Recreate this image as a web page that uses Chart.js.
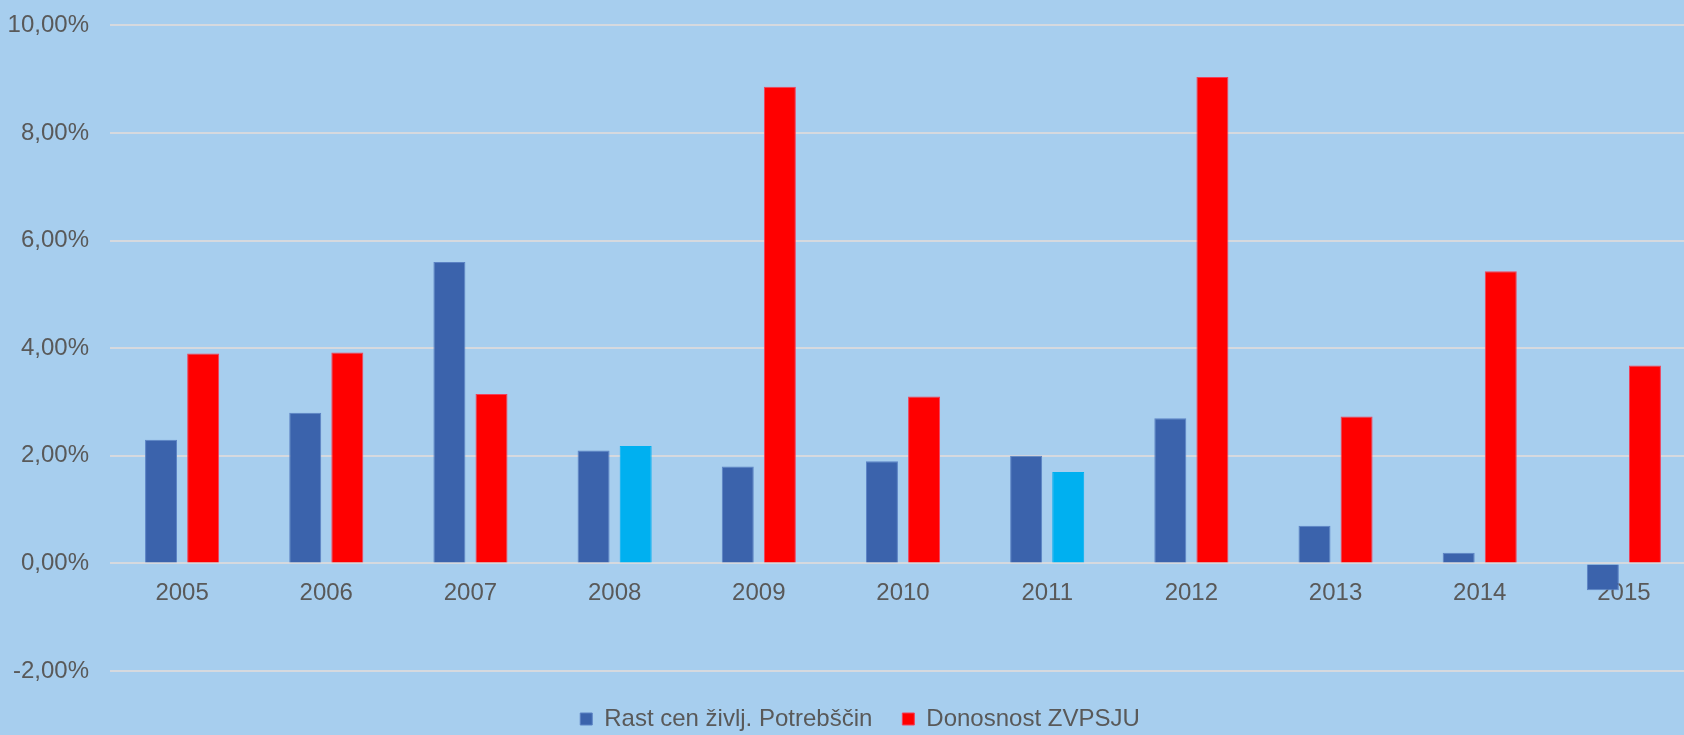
<!DOCTYPE html>
<html>
<head>
<meta charset="utf-8">
<script src="https://cdn.jsdelivr.net/npm/chart.js@4.4.0/dist/chart.umd.min.js"></script>
<style>
    html, body { margin: 0; padding: 0; overflow: hidden; background: #A7CEEE; }
    #wrap { width: 1696px; height: 745px; margin-top: -10px; }
</style>
</head>
<body>
<div id="wrap"><canvas id="grafico"></canvas></div>
<script>
const anos = ['2005', '2006', '2007', '2008', '2009', '2010', '2011', '2012', '2013', '2014', '2015'];
const rastCen = [2.3, 2.8, 5.6, 2.1, 1.8, 1.9, 2.0, 2.7, 0.7, 0.2, -0.5];
const donosnost = [3.9, 3.92, 3.15, 2.18, 8.86, 3.1, 1.7, 9.04, 2.73, 5.43, 3.68];
const yTicks = [-2, 0, 2, 4, 6, 8, 10];

// leta, kjer je donosnost pobarvana svetlo modro
const posebnaLeta = ['2008', '2011'];
const barveDonosnost = anos.map(a => posebnaLeta.includes(a) ? '#00B0F0' : '#FF0000');
const robDonosnost = anos.map(a => posebnaLeta.includes(a) ? '#00B0F0' : '#F2405A');

Chart.defaults.font.family = '"Liberation Sans", Arial, sans-serif';
Chart.defaults.font.size = 24;
Chart.defaults.color = '#595959';

// legendo premaknemo malo nizje in desno, kot v izvirniku
const premikLegende = {
    id: 'premikLegende',
    afterLayout(chart) {
        chart.legend.top += 6;
        chart.legend.bottom += 6;
        chart.legend.left += 20;
    }
};

const config = {
    type: 'bar',
    data: {
        labels: anos,
        datasets: [{
            label: 'Rast cen življ. Potrebščin',
            data: rastCen,
            backgroundColor: '#3B63AC',
            borderColor: '#5B82C4',
            borderWidth: 1,
            categoryPercentage: 0.584,
            barPercentage: 0.76
        }, {
            label: 'Donosnost ZVPSJU',
            data: donosnost,
            backgroundColor: barveDonosnost,
            borderColor: robDonosnost,
            borderWidth: 1,
            categoryPercentage: 0.584,
            barPercentage: 0.76
        }]
    },
    plugins: [premikLegende],
    options: {
        responsive: true,
        maintainAspectRatio: false,
        animation: false,
        layout: { padding: { left: 4, right: 0, top: 2, bottom: 0 } },
        scales: {
            x: {
                position: { y: 0 },
                z: 1,
                grid: { display: false },
                border: { display: false },
                ticks: { padding: 8, color: '#595959' }
            },
            y: {
                min: -2,
                max: 10,
                afterBuildTicks: function (axis) {
                    axis.ticks = yTicks.map(v => ({ value: v }));
                },
                afterFit: function (axis) {
                    axis.width = 106;
                },
                grid: { color: '#D6D9DE', lineWidth: 2, drawTicks: false },
                border: { display: false },
                ticks: {
                    padding: 21,
                    callback: v => v.toFixed(2).replace('.', ',') + '%'
                }
            }
        },
        plugins: {
            legend: {
                position: 'bottom',
                labels: { boxWidth: 12, boxHeight: 12, padding: 30 }
            },
            tooltip: { enabled: false }
        }
    }
};

new Chart(document.getElementById('grafico'), config);
</script>
</body>
</html>
